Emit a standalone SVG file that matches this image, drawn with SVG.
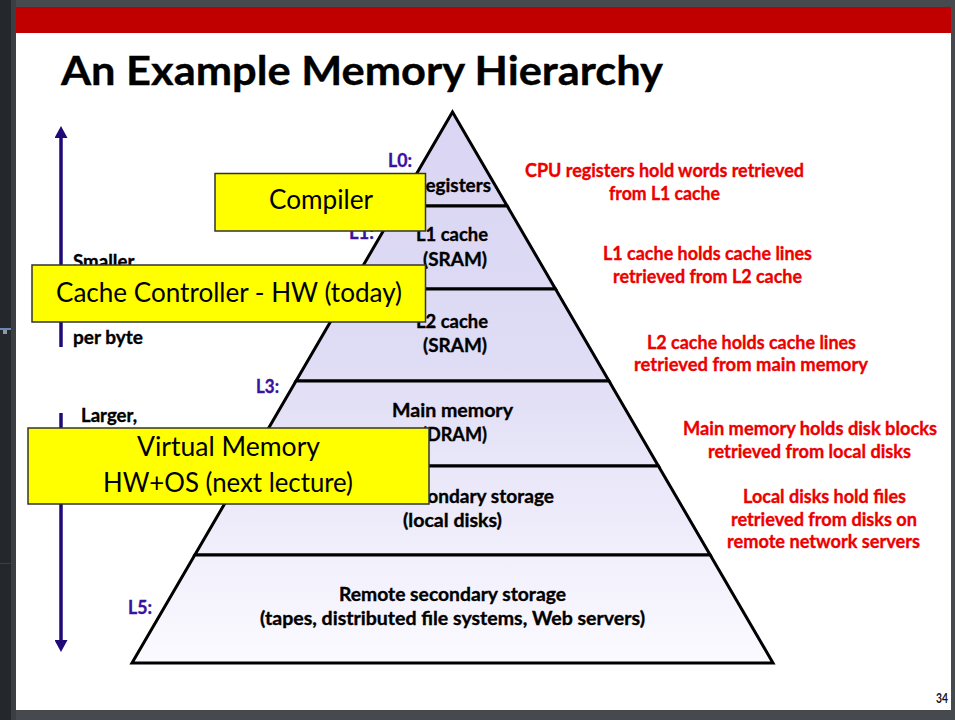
<svg xmlns="http://www.w3.org/2000/svg" width="955" height="720" viewBox="0 0 955 720">
  <defs>
    <style>
      .bold { font-family: "Lato", "Open Sans", "Liberation Sans", sans-serif; font-weight: 700; stroke-width: 0.35; }
      .reg { font-family: "Lato", "Open Sans", "Liberation Sans", sans-serif; font-weight: 400; }
      .tier { fill: url(#tierFill); stroke: #000; stroke-width: 3; stroke-linejoin: miter; }
      .tierText { font-size: 18.5px; fill: #000; stroke: #000; text-anchor: middle; }
      .level { font-size: 18.5px; fill: #3a12a0; stroke: #3a12a0; }
      .note { font-size: 18.5px; fill: #ec0000; stroke: #ec0000; text-anchor: middle; }
      .side { font-size: 18.5px; fill: #000; stroke: #000; }
      .box { fill: #ffff00; stroke: #333; stroke-width: 1.5; }
      .boxText { font-size: 26px; fill: #000; text-anchor: middle; }
      .axis { stroke: #1f0a78; stroke-width: 3.5; fill: none; }
    </style>
    <linearGradient id="tierFill" gradientUnits="userSpaceOnUse" x1="0" y1="112" x2="0" y2="663">
      <stop offset="0" stop-color="#d9d5f3"/>
      <stop offset="0.45" stop-color="#dfdcf5"/>
      <stop offset="1" stop-color="#fbfaff"/>
    </linearGradient>
    <marker id="head" markerUnits="userSpaceOnUse" markerWidth="13" markerHeight="13" refX="0" refY="6.5" orient="auto">
      <path d="M0,0 L12,6.5 L0,13 Z" fill="#1f0a78"/>
    </marker>
  </defs>

  <!-- window frame around the slide -->
  <rect x="0" y="0" width="955" height="720" fill="#46494e"/>
  <rect x="0" y="0" width="11" height="720" fill="#24272c"/>
  <rect x="11" y="0" width="5" height="720" fill="#3b3e43"/>
  <rect x="0" y="328" width="11" height="2" fill="#6d86b8"/>
  <rect x="3" y="330" width="4" height="4" fill="#8c96a6"/>
  <rect x="0" y="563" width="11" height="1" fill="#3b3e43"/>

  <!-- slide page -->
  <rect x="16" y="7" width="935" height="703" fill="#ffffff"/>
  <rect x="16" y="7" width="935" height="26" fill="#c00000"/>
  <text class="bold" x="61" y="85" font-size="41" fill="#000" stroke="#000" stroke-width="0.6" textLength="602" lengthAdjust="spacingAndGlyphs">An Example Memory Hierarchy</text>
  <text class="bold" x="936" y="703" font-size="14" fill="#111" textLength="12" lengthAdjust="spacingAndGlyphs">34</text>

  <!-- pyramid tiers -->
  <g id="tier-l0">
    <polygon class="tier" points="452.5,112 507.2,206 397.8,206"/>
    <text class="bold tierText" x="452.5" y="192" textLength="77" lengthAdjust="spacingAndGlyphs">Registers</text>
  </g>
  <g id="tier-l1">
    <polygon class="tier" points="397.8,206 507.2,206 555.5,289 349.5,289"/>
    <text class="bold tierText" x="452" y="241" textLength="72" lengthAdjust="spacingAndGlyphs">L1 cache</text>
    <text class="bold tierText" x="455" y="265.5" textLength="64" lengthAdjust="spacingAndGlyphs">(SRAM)</text>
  </g>
  <g id="tier-l2">
    <polygon class="tier" points="349.5,289 555.5,289 609,381 296,381"/>
    <text class="bold tierText" x="452" y="328" textLength="72" lengthAdjust="spacingAndGlyphs">L2 cache</text>
    <text class="bold tierText" x="455" y="352" textLength="64" lengthAdjust="spacingAndGlyphs">(SRAM)</text>
  </g>
  <g id="tier-l3">
    <polygon class="tier" points="296,381 609,381 658.4,466 246.6,466"/>
    <text class="bold tierText" x="452.5" y="417" textLength="121" lengthAdjust="spacingAndGlyphs">Main memory</text>
    <text class="bold tierText" x="454.5" y="441" textLength="65" lengthAdjust="spacingAndGlyphs">(DRAM)</text>
  </g>
  <g id="tier-l4">
    <polygon class="tier" points="246.6,466 658.4,466 710.2,555 194.8,555"/>
    <text class="bold tierText" x="452.5" y="503" textLength="203" lengthAdjust="spacingAndGlyphs">Local secondary storage</text>
    <text class="bold tierText" x="452.5" y="527" textLength="99" lengthAdjust="spacingAndGlyphs">(local disks)</text>
  </g>
  <g id="tier-l5">
    <polygon class="tier" points="194.8,555 710.2,555 773,663 132,663"/>
    <text class="bold tierText" x="452.5" y="601" textLength="227" lengthAdjust="spacingAndGlyphs">Remote secondary storage</text>
    <text class="bold tierText" x="452.5" y="625" textLength="385" lengthAdjust="spacingAndGlyphs">(tapes, distributed file systems, Web servers)</text>
  </g>

  <!-- level labels -->
  <g id="level-labels">
    <text class="bold level" x="388" y="167" textLength="24" lengthAdjust="spacingAndGlyphs">L0:</text>
    <text class="bold level" x="349" y="239" textLength="25" lengthAdjust="spacingAndGlyphs">L1:</text>
    <text class="bold level" x="256" y="393" textLength="23" lengthAdjust="spacingAndGlyphs">L3:</text>
    <text class="bold level" x="128" y="614" textLength="24" lengthAdjust="spacingAndGlyphs">L5:</text>
  </g>

  <!-- side captions -->
  <g id="side-captions">
    <text class="bold side" x="73" y="268" textLength="65" lengthAdjust="spacingAndGlyphs">Smaller,</text>
    <text class="bold side" x="73" y="344" textLength="70" lengthAdjust="spacingAndGlyphs">per byte</text>
    <text class="bold side" x="81" y="422" textLength="56" lengthAdjust="spacingAndGlyphs">Larger,</text>
  </g>

  <!-- direction arrows -->
  <g id="connectors">
    <line class="axis" x1="61" y1="347" x2="61" y2="138" marker-end="url(#head)"/>
    <line class="axis" x1="61" y1="413" x2="61" y2="640" marker-end="url(#head)"/>
  </g>

  <!-- per-level notes -->
  <g id="note-l0">
    <text class="bold note" x="664.5" y="177" textLength="279" lengthAdjust="spacingAndGlyphs">CPU registers hold words retrieved</text>
    <text class="bold note" x="664.5" y="200" textLength="111" lengthAdjust="spacingAndGlyphs">from L1 cache</text>
  </g>
  <g id="note-l1">
    <text class="bold note" x="707.5" y="260" textLength="209" lengthAdjust="spacingAndGlyphs">L1 cache holds cache lines</text>
    <text class="bold note" x="707.5" y="283" textLength="189" lengthAdjust="spacingAndGlyphs">retrieved from L2 cache</text>
  </g>
  <g id="note-l2">
    <text class="bold note" x="751.5" y="349" textLength="209" lengthAdjust="spacingAndGlyphs">L2 cache holds cache lines</text>
    <text class="bold note" x="751" y="371" textLength="234" lengthAdjust="spacingAndGlyphs">retrieved from main memory</text>
  </g>
  <g id="note-l3">
    <text class="bold note" x="810" y="435" textLength="254" lengthAdjust="spacingAndGlyphs">Main memory holds disk blocks</text>
    <text class="bold note" x="809.5" y="458" textLength="203" lengthAdjust="spacingAndGlyphs">retrieved from local disks</text>
  </g>
  <g id="note-l4">
    <text class="bold note" x="824.5" y="503" textLength="163" lengthAdjust="spacingAndGlyphs">Local disks hold files</text>
    <text class="bold note" x="824" y="526" textLength="186" lengthAdjust="spacingAndGlyphs">retrieved from disks on</text>
    <text class="bold note" x="823.5" y="548" textLength="193" lengthAdjust="spacingAndGlyphs">remote network servers</text>
  </g>

  <!-- callout boxes -->
  <g id="box-compiler">
    <rect class="box" x="215" y="173.5" width="210.5" height="57.5"/>
    <text class="reg boxText" x="321" y="209" textLength="104" lengthAdjust="spacingAndGlyphs">Compiler</text>
  </g>
  <g id="box-cache-controller">
    <rect class="box" x="32" y="265" width="393.5" height="57"/>
    <text class="reg boxText" x="229" y="302" textLength="346" lengthAdjust="spacingAndGlyphs">Cache Controller - HW (today)</text>
  </g>
  <g id="box-virtual-memory">
    <rect class="box" x="28" y="428" width="401" height="76"/>
    <text class="reg boxText" x="228.5" y="456" textLength="183" lengthAdjust="spacingAndGlyphs">Virtual Memory</text>
    <text class="reg boxText" x="228" y="492" textLength="250" lengthAdjust="spacingAndGlyphs">HW+OS (next lecture)</text>
  </g>
</svg>
